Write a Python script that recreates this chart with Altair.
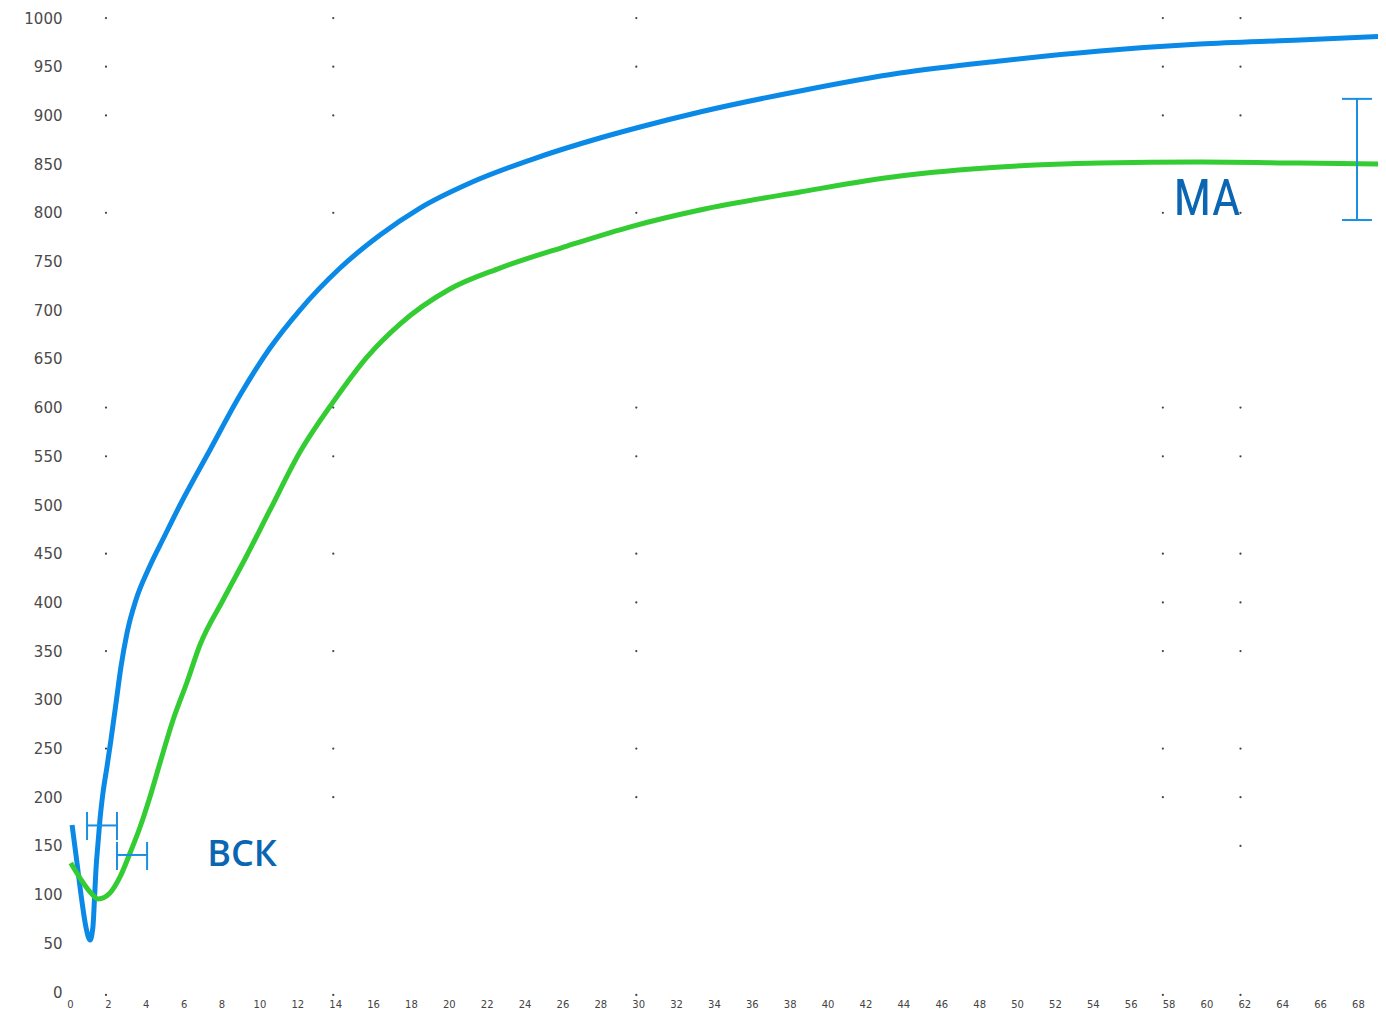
import altair as alt
import pandas as pd

# ---- data ----
blue_x = [0.11, 0.35, 0.62, 0.84, 1.06, 1.21, 1.29, 1.37, 1.48, 1.58, 1.74, 1.95, 2.16, 2.43,
          2.69, 3.01, 3.48, 4.12, 5.02, 5.81, 7.39, 8.98, 10.56, 12.14, 14.26, 16.37, 18.48,
          21.12, 24.29, 27.98, 30.10, 33.26, 38.54, 43.82, 49.10, 54.38, 59.66, 64.94, 69.48]
blue_y = [171.5, 135.5, 94.5, 66.7, 53.4, 66.7, 94.5, 125.3, 153.0, 176.6, 204.3, 231.0, 258.7, 296.7,
          333.7, 368.6, 402.5, 433.3, 469.2, 500.0, 556.5, 612.9, 661.2, 700.2, 743.3, 777.2, 804.9,
          830.6, 854.2, 876.8, 888.1, 903.5, 925.1, 943.5, 955.9, 966.1, 973.3, 977.4, 981.5]

green_x = [0.04, 0.53, 1.06, 1.49, 2.11, 2.64, 3.17, 3.70, 4.22, 4.75, 5.44, 6.18, 6.86, 8.08,
           9.35, 10.56, 12.14, 13.89, 15.68, 17.42, 20.06, 22.70, 26.24, 29.73, 33.26, 38.54,
           43.82, 49.10, 54.38, 59.66, 64.94, 69.48]
green_y = [132.4, 117.0, 102.7, 95.5, 101.6, 118.1, 142.7, 169.4, 200.2, 235.1, 279.2, 318.3, 356.3, 402.5,
           448.7, 494.9, 554.4, 605.7, 651.9, 685.8, 721.8, 743.3, 765.9, 786.4, 802.9, 821.4,
           837.8, 847.0, 851.1, 852.2, 851.1, 850.1]

x_ticks = list(range(0, 70, 2))
y_ticks = list(range(0, 1001, 50))

# faint grid dots
dot_x = ([1.9, 13.9, 29.9, 57.7, 61.8] * 2 + [1.9, 13.9, 57.7, 61.8] + [1.9, 13.9, 29.9, 57.7, 61.8] * 4
         + [29.9, 57.7, 61.8] + [1.9, 13.9, 29.9, 57.7, 61.8] * 2 + [13.9, 29.9, 57.7, 61.8] + [61.8]
         + [1.9, 13.9, 29.9, 57.7, 61.8])
dot_y = ([1000] * 5 + [950] * 5 + [900] * 4 + [800] * 5 + [600] * 5 + [550] * 5 + [450] * 5
         + [400] * 3 + [350] * 5 + [250] * 5 + [200] * 4 + [150] + [-3] * 5)

# annotations: ВСК brackets and MA bar
vsk_bar_x1 = [0.90, 2.48]
vsk_bar_x2 = [2.48, 4.07]
vsk_bar_y = [171.0, 140.7]
vsk_cap_y1 = [156.0, 125.3]
vsk_cap_y2 = [184.8, 154.0]
ma_x = 67.95
ma_y1, ma_y2 = 792.6, 917.0
ma_cap_x1, ma_cap_x2 = 67.16, 68.74
labels = ["ВСК", "MA"]
label_x = [9.08, 60.03]
label_y = [140.7, 813.0]

# ---- build tables ----
lines = pd.DataFrame({
    "x": blue_x + green_x,
    "y": blue_y + green_y,
    "series": ["blue"] * len(blue_x) + ["green"] * len(green_x),
    "order": list(range(len(blue_x))) + list(range(len(green_x))),
})
dots = pd.DataFrame({"x": dot_x, "y": dot_y})

caps = pd.DataFrame({
    "x": [vsk_bar_x1[0], vsk_bar_x2[0], vsk_bar_x1[1], vsk_bar_x2[1]],
    "y1": [vsk_cap_y1[0], vsk_cap_y1[0], vsk_cap_y1[1], vsk_cap_y1[1]],
    "y2": [vsk_cap_y2[0], vsk_cap_y2[0], vsk_cap_y2[1], vsk_cap_y2[1]],
})
hbars = pd.DataFrame({"x1": vsk_bar_x1 + [ma_cap_x1, ma_cap_x1],
                      "x2": vsk_bar_x2 + [ma_cap_x2, ma_cap_x2],
                      "y": vsk_bar_y + [ma_y1, ma_y2]})
vbar = pd.DataFrame({"x": [ma_x], "y1": [ma_y1], "y2": [ma_y2]})
texts = pd.DataFrame({"label": labels, "x": label_x, "y": label_y})

X_DOMAIN = [0, 69.06]
Y_DOMAIN = [0, 1010.3]

xs = alt.Scale(domain=X_DOMAIN, nice=False, zero=False)
ys = alt.Scale(domain=Y_DOMAIN, nice=False, zero=False)

x_axis = alt.Axis(values=x_ticks, grid=False, domain=False, ticks=False, labelFontSize=10,
                  labelColor="#444444", labelPadding=7, labelFont="DejaVu Sans", title=None,
                  labelFlush=False, labelOverlap=False, format="d")
y_axis = alt.Axis(values=y_ticks, grid=False, domain=False, ticks=False, labelFontSize=15,
                  labelColor="#4a4a4a", labelPadding=8, labelFont="DejaVu Sans", title=None,
                  format="d", labelOverlap=False)

base_lines = alt.Chart(lines).mark_line(strokeWidth=5, interpolate="monotone").encode(
    x=alt.X("x:Q", scale=xs, axis=x_axis),
    y=alt.Y("y:Q", scale=ys, axis=y_axis),
    color=alt.Color("series:N", scale=alt.Scale(domain=["blue", "green"],
                                                 range=["#0a8ae6", "#33cc33"]), legend=None),
    order="order:Q",
)

dot_layer = alt.Chart(dots).mark_point(filled=True, size=5, color="#444444", opacity=1).encode(
    x=alt.X("x:Q", scale=xs, axis=x_axis), y=alt.Y("y:Q", scale=ys, axis=y_axis))

cap_layer = alt.Chart(caps).mark_rule(color="#1a8fe3", strokeWidth=2).encode(
    x=alt.X("x:Q", scale=xs, axis=x_axis), y=alt.Y("y1:Q", scale=ys, axis=y_axis), y2="y2:Q")
hbar_layer = alt.Chart(hbars).mark_rule(color="#1a8fe3", strokeWidth=2).encode(
    x=alt.X("x1:Q", scale=xs, axis=x_axis), x2="x2:Q", y=alt.Y("y:Q", scale=ys, axis=y_axis))
vbar_layer = alt.Chart(vbar).mark_rule(color="#1a8fe3", strokeWidth=2).encode(
    x=alt.X("x:Q", scale=xs, axis=x_axis), y=alt.Y("y1:Q", scale=ys, axis=y_axis), y2="y2:Q")

vsk_text = alt.Chart(texts[texts.label == "ВСК"]).mark_text(
    font="Open Sans", fontSize=36, fontWeight=600, color="#0a66b2", align="center", baseline="middle"
).encode(x=alt.X("x:Q", scale=xs, axis=x_axis), y=alt.Y("y:Q", scale=ys, axis=y_axis), text="label:N")
ma_text = alt.Chart(texts[texts.label == "MA"]).mark_text(
    font="Liberation Sans Narrow, Roboto Condensed, Roboto", fontSize=50, fontWeight="normal",
    color="#0a66b2", align="center", baseline="middle"
).encode(x=alt.X("x:Q", scale=xs, axis=x_axis), y=alt.Y("y:Q", scale=ys, axis=y_axis), text="label:N")

chart = alt.layer(base_lines, dot_layer, cap_layer, hbar_layer, vbar_layer, vsk_text, ma_text).properties(
    width=1308, height=984,
    autosize=alt.AutoSizeParams(type="none"),
    padding={"left": 62, "top": 0, "right": 0, "bottom": 17},
    background="white",
).configure_view(stroke=None).configure_axis(labelOverlap=False)

chart.save("out.html", embed_options={"renderer": "svg", "actions": False})
